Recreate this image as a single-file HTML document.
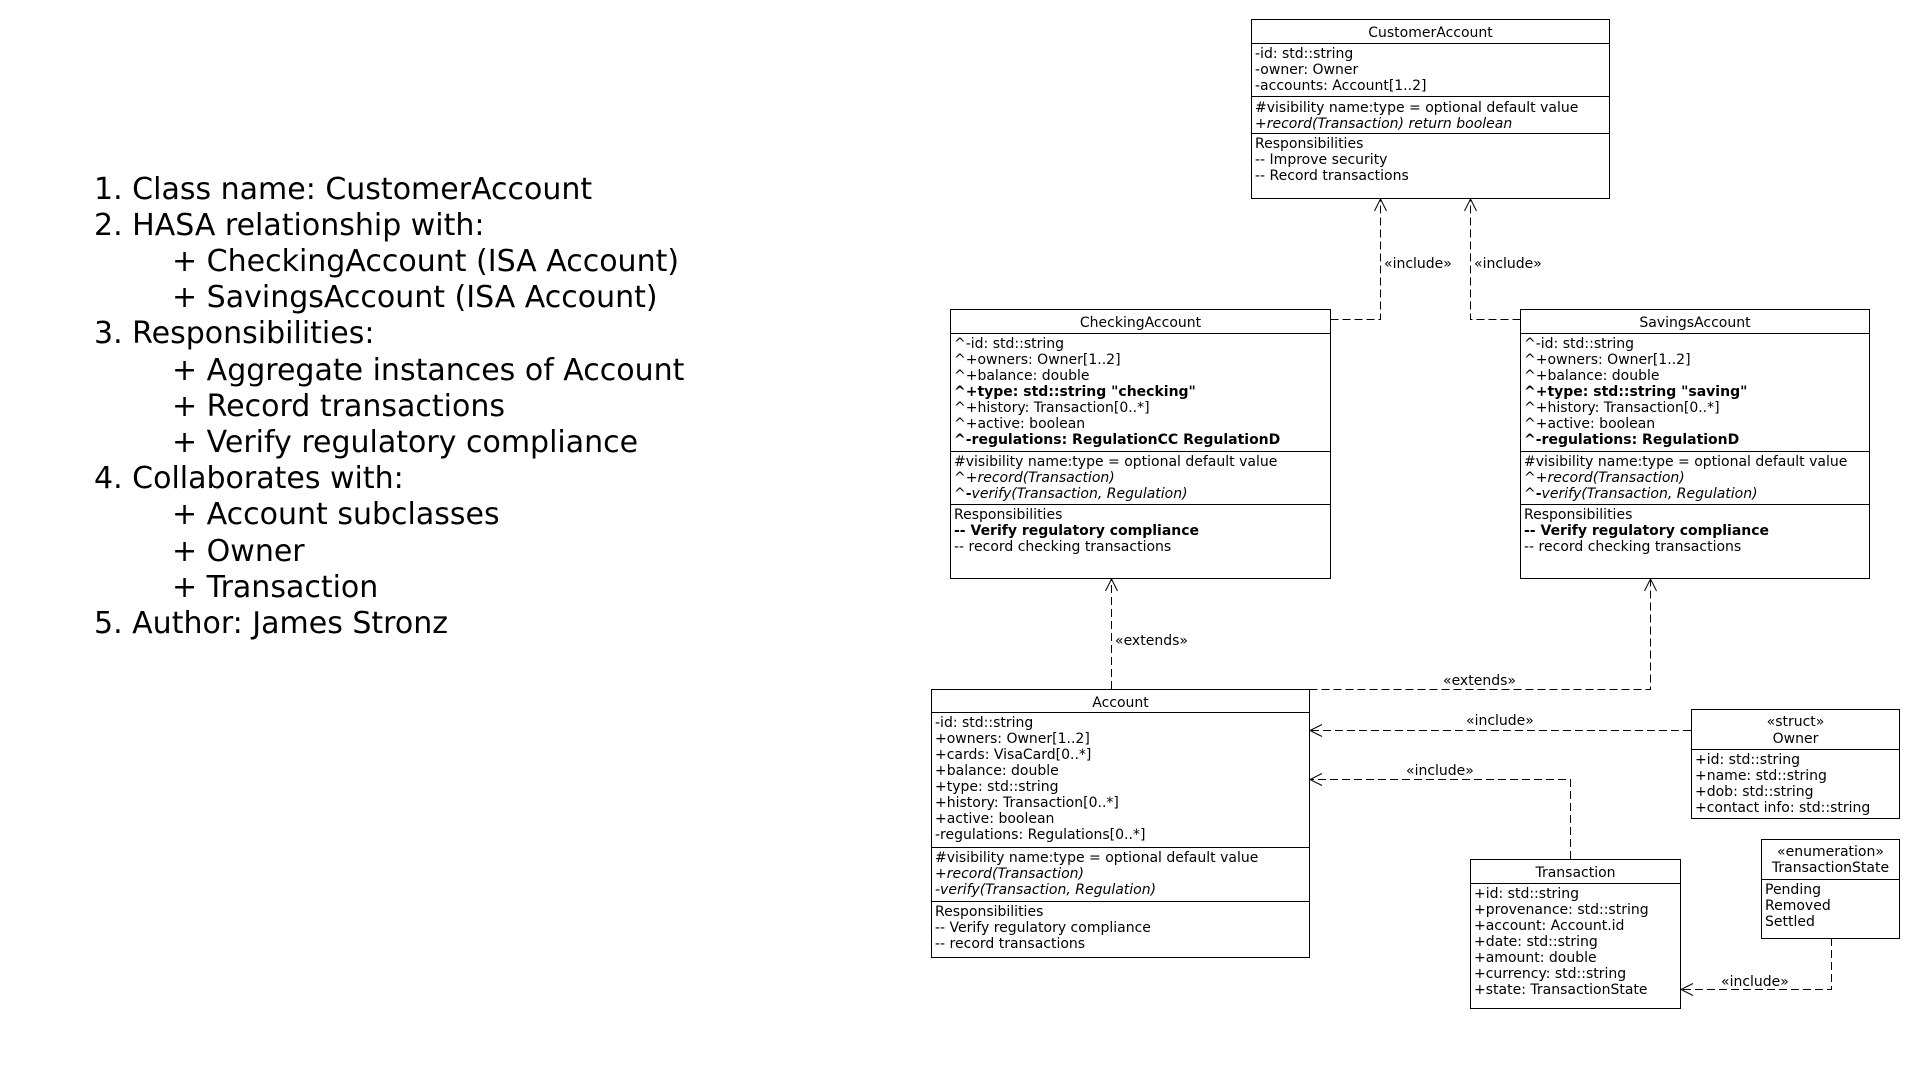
<!DOCTYPE html>
<html><head><meta charset="utf-8"><style>
html,body{margin:0;padding:0;background:#fff;}
svg{display:block;}
text{font-family:"DejaVu Sans","Liberation Sans",sans-serif;font-size:14px;fill:#000;}
.big{font-size:30px;}
.b{font-weight:bold;}
.i{font-style:italic;}
.box{fill:#fff;stroke:#000;stroke-width:1;}
.ln{stroke:#000;stroke-width:1;}
.d{fill:none;stroke:#000;stroke-width:1;stroke-dasharray:8 4;}
.ar{fill:none;stroke:#000;stroke-width:1;}
</style></head><body>
<svg width="1920" height="1080" viewBox="0 0 1920 1080" xmlns="http://www.w3.org/2000/svg">
<text class="big" x="94" y="199">1. Class name: CustomerAccount</text>
<text class="big" x="94" y="235">2. HASA relationship with:</text>
<text class="big" x="172" y="271">+ CheckingAccount (ISA Account)</text>
<text class="big" x="172" y="307">+ SavingsAccount (ISA Account)</text>
<text class="big" x="94" y="343">3. Responsibilities:</text>
<text class="big" x="172" y="380">+ Aggregate instances of Account</text>
<text class="big" x="172" y="416">+ Record transactions</text>
<text class="big" x="172" y="452">+ Verify regulatory compliance</text>
<text class="big" x="94" y="488">4. Collaborates with:</text>
<text class="big" x="172" y="524">+ Account subclasses</text>
<text class="big" x="172" y="561">+ Owner</text>
<text class="big" x="172" y="597">+ Transaction</text>
<text class="big" x="94" y="633">5. Author: James Stronz</text>

<polyline class="d" points="1330.5,319.5 1380.5,319.5 1380.5,199"/>
<polyline class="ar" points="1374.5,211 1380.5,199 1386.5,211"/>
<text x="1384" y="268">«include»</text>
<polyline class="d" points="1520.5,319.5 1470.5,319.5 1470.5,199"/>
<polyline class="ar" points="1464.5,211 1470.5,199 1476.5,211"/>
<text x="1474" y="268">«include»</text>

<polyline class="d" points="1111.5,689 1111.5,579"/>
<polyline class="ar" points="1105.5,591 1111.5,579 1117.5,591"/>
<text x="1115" y="645">«extends»</text>
<polyline class="d" points="1309.5,689.5 1650.5,689.5 1650.5,579"/>
<polyline class="ar" points="1644.5,591 1650.5,579 1656.5,591"/>
<text x="1443" y="685">«extends»</text>

<polyline class="d" points="1691,730.5 1310,730.5"/>
<polyline class="ar" points="1322,724.5 1310,730.5 1322,736.5"/>
<text x="1466" y="725">«include»</text>

<polyline class="d" points="1570.5,859 1570.5,779.5 1310,779.5"/>
<polyline class="ar" points="1322,773.5 1310,779.5 1322,785.5"/>
<text x="1406" y="775">«include»</text>

<polyline class="d" points="1831.5,938 1831.5,989.5 1681,989.5"/>
<polyline class="ar" points="1693,983.5 1681,989.5 1693,995.5"/>
<text x="1721" y="986">«include»</text>

<rect class="box" x="1251.5" y="19.5" width="358" height="179"/>
<line class="ln" x1="1251.5" y1="43.5" x2="1609.5" y2="43.5"/>
<line class="ln" x1="1251.5" y1="96.5" x2="1609.5" y2="96.5"/>
<line class="ln" x1="1251.5" y1="133.5" x2="1609.5" y2="133.5"/>
<text x="1430.5" y="37" text-anchor="middle">CustomerAccount</text>
<text x="1255" y="58">-id: std::string</text>
<text x="1255" y="74">-owner: Owner</text>
<text x="1255" y="90">-accounts: Account[1..2]</text>
<text x="1255" y="112">#visibility name:type = optional default value</text>
<text x="1255" y="128" class="i">+record(Transaction) return boolean</text>
<text x="1255" y="148">Responsibilities</text>
<text x="1255" y="164">-- Improve security</text>
<text x="1255" y="180">-- Record transactions</text>

<rect class="box" x="950.5" y="309.5" width="380" height="269"/>
<line class="ln" x1="950.5" y1="333.5" x2="1330.5" y2="333.5"/>
<line class="ln" x1="950.5" y1="451.5" x2="1330.5" y2="451.5"/>
<line class="ln" x1="950.5" y1="504.5" x2="1330.5" y2="504.5"/>
<text x="1140.5" y="327" text-anchor="middle">CheckingAccount</text>
<text x="954" y="348">^-id: std::string</text>
<text x="954" y="364">^+owners: Owner[1..2]</text>
<text x="954" y="380">^+balance: double</text>
<text x="954" y="396" class="b">^+type: std::string "checking"</text>
<text x="954" y="412">^+history: Transaction[0..*]</text>
<text x="954" y="428">^+active: boolean</text>
<text x="954" y="444" class="b">^-regulations: RegulationCC RegulationD</text>
<text x="954" y="466">#visibility name:type = optional default value</text>
<text x="954" y="482">^+<tspan class="i">record(Transaction)</tspan></text>
<text x="954" y="498">^<tspan class="b">-</tspan><tspan class="i">verify(Transaction, Regulation)</tspan></text>
<text x="954" y="519">Responsibilities</text>
<text x="954" y="535" class="b">-- Verify regulatory compliance</text>
<text x="954" y="551">-- record checking transactions</text>

<rect class="box" x="1520.5" y="309.5" width="349" height="269"/>
<line class="ln" x1="1520.5" y1="333.5" x2="1869.5" y2="333.5"/>
<line class="ln" x1="1520.5" y1="451.5" x2="1869.5" y2="451.5"/>
<line class="ln" x1="1520.5" y1="504.5" x2="1869.5" y2="504.5"/>
<text x="1695" y="327" text-anchor="middle">SavingsAccount</text>
<text x="1524" y="348">^-id: std::string</text>
<text x="1524" y="364">^+owners: Owner[1..2]</text>
<text x="1524" y="380">^+balance: double</text>
<text x="1524" y="396" class="b">^+type: std::string "saving"</text>
<text x="1524" y="412">^+history: Transaction[0..*]</text>
<text x="1524" y="428">^+active: boolean</text>
<text x="1524" y="444" class="b">^-regulations: RegulationD</text>
<text x="1524" y="466">#visibility name:type = optional default value</text>
<text x="1524" y="482">^+<tspan class="i">record(Transaction)</tspan></text>
<text x="1524" y="498">^<tspan class="b">-</tspan><tspan class="i">verify(Transaction, Regulation)</tspan></text>
<text x="1524" y="519">Responsibilities</text>
<text x="1524" y="535" class="b">-- Verify regulatory compliance</text>
<text x="1524" y="551">-- record checking transactions</text>

<rect class="box" x="931.5" y="689.5" width="378" height="268"/>
<line class="ln" x1="931.5" y1="712.5" x2="1309.5" y2="712.5"/>
<line class="ln" x1="931.5" y1="847.5" x2="1309.5" y2="847.5"/>
<line class="ln" x1="931.5" y1="901.5" x2="1309.5" y2="901.5"/>
<text x="1120.5" y="707" text-anchor="middle">Account</text>
<text x="935" y="727">-id: std::string</text>
<text x="935" y="743">+owners: Owner[1..2]</text>
<text x="935" y="759">+cards: VisaCard[0..*]</text>
<text x="935" y="775">+balance: double</text>
<text x="935" y="791">+type: std::string</text>
<text x="935" y="807">+history: Transaction[0..*]</text>
<text x="935" y="823">+active: boolean</text>
<text x="935" y="839">-regulations: Regulations[0..*]</text>
<text x="935" y="862">#visibility name:type = optional default value</text>
<text x="935" y="878" class="i">+record(Transaction)</text>
<text x="935" y="894" class="i">-verify(Transaction, Regulation)</text>
<text x="935" y="916">Responsibilities</text>
<text x="935" y="932">-- Verify regulatory compliance</text>
<text x="935" y="948">-- record transactions</text>

<rect class="box" x="1691.5" y="709.5" width="208" height="109"/>
<line class="ln" x1="1691.5" y1="749.5" x2="1899.5" y2="749.5"/>
<text x="1795.5" y="726" text-anchor="middle">«struct»</text>
<text x="1795.5" y="743" text-anchor="middle">Owner</text>
<text x="1695" y="764">+id: std::string</text>
<text x="1695" y="780">+name: std::string</text>
<text x="1695" y="796">+dob: std::string</text>
<text x="1695" y="812">+contact info: std::string</text>

<rect class="box" x="1470.5" y="859.5" width="210" height="149"/>
<line class="ln" x1="1470.5" y1="883.5" x2="1680.5" y2="883.5"/>
<text x="1575.5" y="877" text-anchor="middle">Transaction</text>
<text x="1474" y="898">+id: std::string</text>
<text x="1474" y="914">+provenance: std::string</text>
<text x="1474" y="930">+account: Account.id</text>
<text x="1474" y="946">+date: std::string</text>
<text x="1474" y="962">+amount: double</text>
<text x="1474" y="978">+currency: std::string</text>
<text x="1474" y="994">+state: TransactionState</text>

<rect class="box" x="1761.5" y="839.5" width="138" height="99"/>
<line class="ln" x1="1761.5" y1="879.5" x2="1899.5" y2="879.5"/>
<text x="1830.5" y="856" text-anchor="middle">«enumeration»</text>
<text x="1830.5" y="872" text-anchor="middle">TransactionState</text>
<text x="1765" y="894">Pending</text>
<text x="1765" y="910">Removed</text>
<text x="1765" y="926">Settled</text>
</svg>
</body></html>
